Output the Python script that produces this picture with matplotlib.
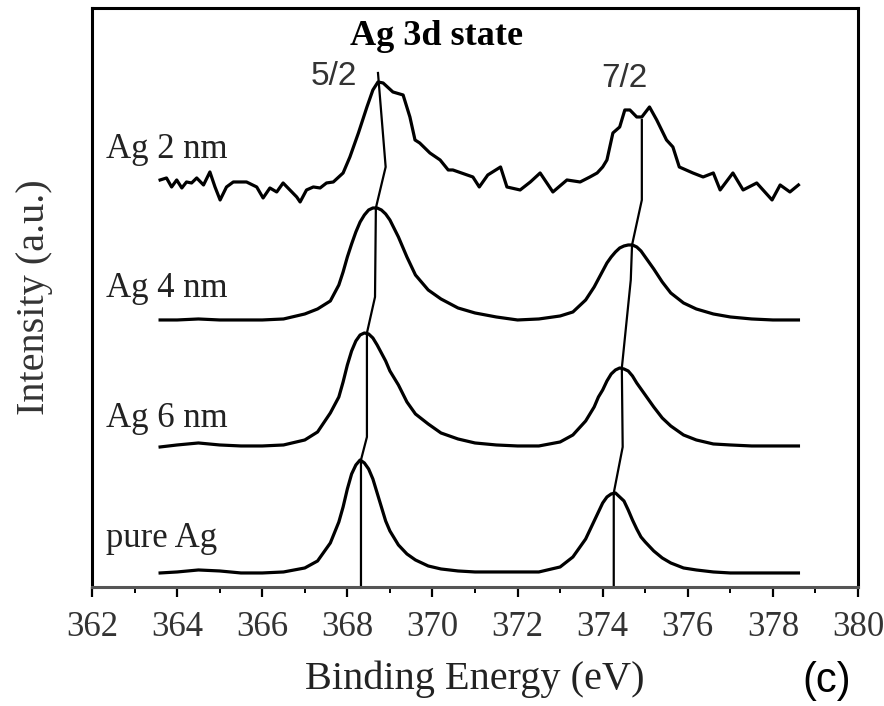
import numpy as np
import matplotlib
matplotlib.use("Agg")
import matplotlib.pyplot as plt
from matplotlib.ticker import MultipleLocator

plt.rcParams['font.family'] = ['Liberation Serif', 'DejaVu Serif']

# binding energy grid (eV) for the smooth spectra
energy = [363.6, 364.0, 364.5, 365.0, 365.5, 366.0, 366.5, 367.0, 367.3, 367.6,
          367.8, 367.9, 368.0, 368.1, 368.2, 368.3, 368.4, 368.5, 368.6, 368.7,
          368.8, 368.9, 369.0, 369.2, 369.4, 369.6, 369.9, 370.2, 370.6, 371.0,
          371.5, 372.0, 372.5, 373.0, 373.3, 373.6, 373.8, 373.9, 374.0, 374.1,
          374.2, 374.3, 374.4, 374.5, 374.6, 374.7, 374.8, 374.9, 375.0, 375.2,
          375.4, 375.6, 375.9, 376.2, 376.6, 377.0, 377.5, 378.0, 378.6]

# stacked intensities (a.u.)
pure_ag = [14, 15, 17, 16, 14, 14, 15, 19, 26, 44,
           65, 80, 98, 113, 122, 127, 124, 118, 108, 94,
           80, 66, 56, 42, 33, 27, 21, 18, 16, 15,
           15, 15, 15, 20, 30, 48, 66, 75, 84, 90,
           93, 94, 90, 86, 77, 67, 58, 50, 45, 36,
           29, 24, 19, 17, 15, 14, 14, 14, 14]
ag_6nm = [140, 142, 144, 142, 141, 141, 142, 147, 155, 174,
          190, 205, 222, 236, 246, 252, 254, 253, 249, 242,
          234, 226, 216, 202, 185, 173, 163, 154, 148, 144,
          142, 141, 141, 145, 152, 166, 180, 190, 197, 206,
          213, 217, 219, 218, 216, 211, 204, 198, 192, 180,
          169, 161, 152, 147, 143, 142, 141, 141, 141]
ag_4nm = [267, 267, 268, 267, 267, 267, 268, 273, 278, 286,
          302, 315, 330, 343, 355, 365, 372, 377, 379, 379,
          377, 373, 367, 350, 330, 312, 297, 288, 279, 274,
          270, 267, 268, 271, 275, 287, 300, 308, 316, 324,
          330, 335, 339, 341, 342, 342, 340, 336, 330, 318,
          305, 294, 284, 278, 273, 270, 268, 267, 267]

# the 2 nm spectrum is noisy, own energy points
energy_2nm = [363.60, 363.75, 363.87, 363.99, 364.11, 364.22, 364.34, 364.46, 364.62, 364.77,
              364.89, 365.01, 365.16, 365.32, 365.63, 365.87, 366.02, 366.18, 366.34, 366.49,
              366.65, 366.81, 366.89, 367.04, 367.20, 367.36, 367.51, 367.67, 367.90, 368.06,
              368.26, 368.46, 368.60, 368.72, 368.84, 369.07, 369.31, 369.47, 369.59, 369.70,
              369.94, 370.18, 370.37, 370.48, 370.95, 371.10, 371.30, 371.60, 371.75, 372.06,
              372.30, 372.53, 372.83, 373.16, 373.47, 373.70, 373.87, 374.00, 374.10, 374.24,
              374.40, 374.52, 374.64, 374.80, 374.92, 375.10, 375.27, 375.50, 375.65, 375.80,
              376.12, 376.36, 376.60, 376.76, 377.06, 377.30, 377.62, 377.98, 378.17, 378.40,
              378.60]
ag_2nm = [407, 409, 400, 407, 399, 405, 404, 409, 402, 415,
          400, 387, 400, 405, 405, 400, 389, 399, 395, 404,
          397, 390, 385, 397, 400, 399, 404, 405, 414, 430,
          454, 480, 497, 505, 504, 495, 492, 470, 447, 444,
          434, 427, 417, 417, 410, 400, 412, 420, 400, 397,
          405, 414, 395, 407, 405, 410, 414, 420, 427, 454,
          460, 477, 477, 470, 470, 480, 467, 447, 440, 420,
          414, 410, 414, 397, 414, 397, 404, 387, 402, 395,
          402]

# peak position guide lines
peak52_x = [368.72, 368.90, 368.67, 368.65, 368.46, 368.46, 368.32, 368.32]
peak52_y = [514, 420, 379, 290, 254, 150, 127, 0]
peak72_x = [374.92, 374.92, 374.69, 374.66, 374.45, 374.47, 374.26, 374.26]
peak72_y = [467, 387, 342, 307, 219, 140, 94, 0]

labels = ["Ag 2 nm", "Ag 4 nm", "Ag 6 nm", "pure Ag"]
label_y = [429, 290, 160, 40]

fig = plt.figure(figsize=(8.84, 7.06), dpi=100)
ax = fig.add_axes([0.1041, 0.1686, 0.8665, 0.8201])

ax.plot(energy_2nm, ag_2nm, color='black', lw=2.3)
ax.plot(energy, ag_4nm, color='black', lw=2.3)
ax.plot(energy, ag_6nm, color='black', lw=2.3)
ax.plot(energy, pure_ag, color='black', lw=2.3)
ax.plot(peak52_x, peak52_y, color='black', lw=1.6)
ax.plot(peak72_x, peak72_y, color='black', lw=1.6)

for lab, y in zip(labels, label_y):
    ax.text(362.33, y, lab, fontsize=25, color='#222222', ha='left', va='baseline')

ax.text(370.1, 542, "Ag 3d state", fontsize=26, fontweight='bold', ha='center', va='baseline')
ax.text(367.69, 502, "5/2", fontsize=24, family='Liberation Sans', color='#333333',
        ha='center', va='baseline')
ax.text(374.52, 500, "7/2", fontsize=24, family='Liberation Sans', color='#333333',
        ha='center', va='baseline')

ax.set_xlim(362, 380)
ax.set_ylim(0, 579)
ax.xaxis.set_major_locator(MultipleLocator(2))
ax.xaxis.set_minor_locator(MultipleLocator(1))
ax.set_yticks([])
ax.tick_params(axis='x', which='major', direction='out', length=7, width=1.6,
               labelsize=25, labelcolor='#333333', pad=10)
ax.tick_params(axis='x', which='minor', direction='out', length=4.5, width=1.4)

for side in ['left', 'right', 'top']:
    ax.spines[side].set_linewidth(2.2)
ax.spines['bottom'].set_linewidth(2.2)
ax.spines['bottom'].set_color('#555555')

ax.set_xlabel("Binding Energy (eV)", fontsize=29, color='#222222', labelpad=12)
ax.set_ylabel("Intensity (a.u.)", fontsize=29, color='#333333', labelpad=28)

fig.text(827 / 884, 1 - 681 / 706, "(c)", fontsize=30, family='Liberation Sans',
         ha='center', va='center')

fig.savefig("out.png", dpi=100)
